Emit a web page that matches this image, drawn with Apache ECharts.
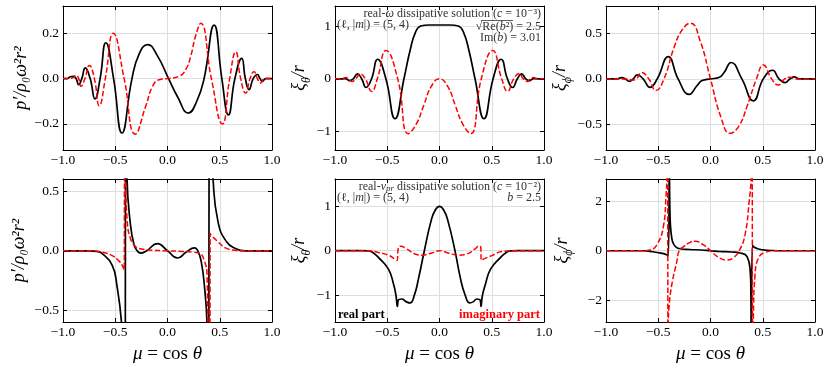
<!DOCTYPE html>
<html>
<head>
<meta charset="utf-8">
<script src="https://cdn.jsdelivr.net/npm/echarts@6/dist/echarts.min.js"></script>
<style>
  html, body { margin: 0; background: #fff; }
  #chart { width: 831px; height: 367px; }
</style>
</head>
<body>
<div id="chart"></div>
<script>
// tick values
const xTicks = [-1, -0.5, 0, 0.5, 1]
const pTopTicks = [-0.2, 0, 0.2]
const thTopTicks = [-1, 0, 1]
const phTopTicks = [-0.5, 0, 0.5]
const pBotTicks = [-0.5, 0, 0.5]
const thBotTicks = [-1, 0, 1]
const phBotTicks = [-2, 0, 2]

// top row: real-omega solution, [mu, value]
const pTopRe = [[-1,0],[-0.96,0],[-0.93,0.008],[-0.9,0.01],[-0.875,0],[-0.85,-0.027],[-0.82,0],[-0.787,0.047],[-0.74,0],[-0.694,-0.09],[-0.645,0],[-0.59,0.158],[-0.516,0],[-0.436,-0.24],[-0.34,0],[-0.27,0.11],[-0.19,0.15],[-0.096,0.1],[0.01,0],[0.096,-0.08],[0.2,-0.152],[0.28,-0.1],[0.35,0],[0.446,0.236],[0.52,0],[0.583,-0.16],[0.645,0],[0.71,0.089],[0.745,0],[0.78,-0.049],[0.82,0],[0.86,0.018],[0.885,0],[0.908,-0.012],[0.94,0],[1,0]]
const pTopIm = [[-1,0],[-0.94,0],[-0.9,0.005],[-0.876,0.015],[-0.85,0],[-0.828,-0.034],[-0.79,0],[-0.748,0.058],[-0.7,0],[-0.653,-0.12],[-0.595,0],[-0.519,0.2],[-0.415,0],[-0.309,-0.245],[-0.207,-0.12],[-0.143,-0.034],[-0.08,-0.005],[0,0],[0.11,0.01],[0.175,0.04],[0.223,0.1],[0.27,0.19],[0.318,0.244],[0.42,0],[0.525,-0.2],[0.595,0],[0.653,0.118],[0.7,0],[0.748,-0.064],[0.79,0],[0.828,0.03],[0.86,0],[0.89,-0.02],[0.93,0],[1,0]]
const thTopRe = [[-1,0],[-0.93,0],[-0.9,0.005],[-0.86,-0.035],[-0.825,0],[-0.786,0.095],[-0.745,0],[-0.703,-0.165],[-0.65,0],[-0.592,0.37],[-0.513,0],[-0.426,-0.757],[-0.34,0],[-0.28,0.55],[-0.23,0.88],[-0.18,1.0],[-0.1,1.02],[0,1.02],[0.1,1.02],[0.18,1.0],[0.23,0.88],[0.28,0.55],[0.34,0],[0.426,-0.757],[0.513,0],[0.59,0.37],[0.65,0],[0.7,-0.165],[0.745,0],[0.787,0.095],[0.825,0],[0.86,-0.035],[0.9,0.005],[0.95,0],[1,0]]
const thTopIm = [[-1,0],[-0.93,0],[-0.9,0.025],[-0.87,0],[-0.84,-0.05],[-0.8,0],[-0.761,0.095],[-0.71,0],[-0.649,-0.24],[-0.595,0],[-0.512,0.536],[-0.4,0],[-0.298,-1.04],[-0.22,-0.85],[-0.15,-0.5],[-0.08,-0.15],[0,0],[0.08,-0.15],[0.15,-0.5],[0.22,-0.85],[0.298,-1.04],[0.4,0],[0.509,0.536],[0.595,0],[0.652,-0.24],[0.71,0],[0.764,0.1],[0.8,0],[0.844,-0.05],[0.87,0],[0.9,0.025],[0.93,0],[1,0]]
const phTopRe = [[-1,0],[-0.9,0],[-0.85,0.015],[-0.815,0],[-0.777,-0.026],[-0.74,0],[-0.7,0.044],[-0.645,0],[-0.579,-0.092],[-0.51,0],[-0.404,0.245],[-0.31,0],[-0.203,-0.17],[-0.13,-0.075],[-0.08,-0.018],[0,0],[0.08,0.015],[0.13,0.07],[0.196,0.18],[0.3,0],[0.41,-0.242],[0.505,0],[0.595,0.095],[0.655,0],[0.713,-0.04],[0.76,0],[0.802,0.022],[0.85,0],[1,0]]
const phTopIm = [[-1,0],[-0.8,0],[-0.745,-0.012],[-0.71,0],[-0.659,0.07],[-0.59,0],[-0.522,-0.128],[-0.445,0],[-0.35,0.34],[-0.27,0.54],[-0.19,0.612],[-0.1,0.42],[0,0],[0.1,-0.42],[0.187,-0.597],[0.27,-0.52],[0.35,-0.3],[0.44,0],[0.506,0.154],[0.585,0],[0.649,-0.066],[0.71,0],[0.76,0.018],[0.81,0],[1,0]]

// bottom row: real-v_pr solution
const pBotRe = [[-1,0],[-0.75,0],[-0.68,-0.005],[-0.63,-0.02],[-0.53,-0.12],[-0.484,-0.29],[-0.44,-0.6],[-0.42,-1.0],[-0.405,-2],[-0.401,2],[-0.395,1.2],[-0.387,0.6],[-0.354,0.215],[-0.32,0.05],[-0.29,0],[-0.257,-0.02],[-0.2,0],[-0.097,0.06],[0,0],[0.097,-0.06],[0.18,-0.01],[0.258,0.025],[0.29,0],[0.323,-0.09],[0.355,-0.31],[0.378,-0.6],[0.39,-1.2],[0.395,-2],[0.399,2],[0.42,1.0],[0.436,0.6],[0.484,0.24],[0.565,0.075],[0.65,0.02],[0.75,0],[1,0]]
const pBotIm = [[-1,0],[-0.75,0],[-0.63,-0.01],[-0.53,-0.04],[-0.47,-0.08],[-0.435,-0.12],[-0.415,-0.16],[-0.41,2],[-0.4,0.6],[-0.387,0.27],[-0.354,0.1],[-0.3,0.03],[-0.274,0.02],[-0.15,0.005],[0,0],[0.15,-0.005],[0.25,-0.012],[0.307,-0.02],[0.355,-0.09],[0.378,-0.2],[0.39,-0.9],[0.405,-2],[0.409,0.145],[0.42,0.13],[0.465,0.09],[0.565,0.02],[0.65,0.005],[0.75,0],[1,0]]
const thBotRe = [[-1,0],[-0.75,0],[-0.68,-0.005],[-0.633,-0.05],[-0.585,-0.15],[-0.49,-0.41],[-0.44,-0.75],[-0.416,-1.02],[-0.403,-1.26],[-0.395,-1.12],[-0.362,-1.09],[-0.32,-1.15],[-0.282,-1.18],[-0.24,-1.0],[-0.2,-0.62],[-0.145,0],[-0.08,0.68],[-0.04,0.92],[0,1.0],[0.04,0.92],[0.08,0.68],[0.148,0],[0.2,-0.62],[0.245,-1.0],[0.29,-1.18],[0.325,-1.15],[0.356,-1.09],[0.39,-1.12],[0.397,-1.26],[0.41,-1.02],[0.44,-0.75],[0.49,-0.41],[0.585,-0.15],[0.633,-0.05],[0.68,-0.005],[0.75,0],[1,0]]
const thBotIm = [[-1,0],[-0.68,0],[-0.585,-0.04],[-0.49,-0.1],[-0.426,-0.19],[-0.408,-0.22],[-0.392,0.08],[-0.372,0.1],[-0.314,0.04],[-0.234,-0.075],[-0.17,-0.1],[-0.075,-0.05],[0,0],[0.085,-0.05],[0.18,-0.1],[0.26,-0.075],[0.34,0.04],[0.378,0.11],[0.395,0.08],[0.4,-0.22],[0.42,-0.19],[0.5,-0.11],[0.595,-0.02],[0.7,0],[1,0]]
const phBotRe = [[-1,0],[-0.65,0],[-0.55,-0.04],[-0.45,-0.12],[-0.42,-0.16],[-0.404,-0.2],[-0.394,3.5],[-0.39,2],[-0.383,1.0],[-0.37,0.5],[-0.356,0.3],[-0.33,0.15],[-0.29,0.08],[-0.2,0.05],[-0.09,0.03],[0,0],[0.09,-0.03],[0.2,-0.05],[0.285,-0.09],[0.35,-0.24],[0.38,-0.85],[0.386,-1.5],[0.39,-3.5],[0.402,0.23],[0.415,0.15],[0.46,0.07],[0.54,0.02],[0.65,0],[1,0]]
const phBotIm = [[-1,0],[-0.65,0],[-0.58,0.03],[-0.515,0.23],[-0.45,1.0],[-0.426,2.2],[-0.418,2.9],[-0.412,5],[-0.406,-5],[-0.403,-2.9],[-0.397,-2.3],[-0.371,-1.39],[-0.323,-0.45],[-0.3,0],[-0.26,0.16],[-0.2,0.33],[-0.148,0.39],[-0.07,0.25],[0,0],[0.07,-0.25],[0.155,-0.38],[0.22,-0.28],[0.275,0],[0.33,0.64],[0.37,2.0],[0.388,2.9],[0.397,5],[0.403,-5],[0.41,-2.75],[0.426,-0.99],[0.458,-0.31],[0.52,-0.07],[0.63,0],[1,0]]

const SERIF = "'Liberation Serif', 'DejaVu Serif', serif"
const minus = (s) => s.replace('-', '\u2212')
const fmt1 = (v) => minus((Math.abs(v) < 1e-9 ? 0 : v).toFixed(1))
const fmt0 = (v) => minus(String(Math.round(v)))

const nameRich = {
  i: { fontFamily: SERIF, fontStyle: 'italic', fontSize: 18, lineHeight: 26, color: '#000' },
  r: { fontFamily: SERIF, fontSize: 18, lineHeight: 26, color: '#000' },
  s: { fontFamily: SERIF, fontStyle: 'italic', fontSize: 12, lineHeight: 13, verticalAlign: 'bottom', color: '#000' },
}
const pName = '{i|p′/ρ₀ω²r²}'
const thName = '{i|ξ}{s|θ}{i|/r}'
const phName = '{i|ξ}{s|ϕ}{i|/r}'

const panels = [
  { left: 63, top: 6, h: 144, re: pTopRe, im: pTopIm, ticks: pTopTicks, min: -0.315, max: 0.32, fmt: fmt1, name: pName, gap: 29 },
  { left: 335, top: 6, h: 144, re: thTopRe, im: thTopIm, ticks: thTopTicks, min: -1.35, max: 1.38, fmt: fmt0, name: thName, gap: 18 },
  { left: 606, top: 6, h: 144, re: phTopRe, im: phTopIm, ticks: phTopTicks, min: -0.78, max: 0.8, fmt: fmt1, name: phName, gap: 31 },
  { left: 63, top: 179, h: 143, re: pBotRe, im: pBotIm, ticks: pBotTicks, min: -0.595, max: 0.6, fmt: fmt1, name: pName, gap: 31 },
  { left: 335, top: 179, h: 143, re: thBotRe, im: thBotIm, ticks: thBotTicks, min: -1.61, max: 1.62, fmt: fmt0, name: thName, gap: 19 },
  { left: 606, top: 179, h: 143, re: phBotRe, im: phBotIm, ticks: phBotTicks, min: -2.89, max: 2.91, fmt: fmt0, name: phName, gap: 31 },
]

const frame = { show: true, onZero: false, lineStyle: { color: '#000', width: 1 } }
const tick = { show: true, inside: true, length: 4, lineStyle: { color: '#000', width: 1 } }
const grid = [], xAxis = [], yAxis = [], series = []

panels.forEach((p, i) => {
  grid.push({ left: p.left, top: p.top, width: 209, height: p.h })
  const bottomRow = p.top > 100
  xAxis.push({
    gridIndex: i, type: 'value', min: -1, max: 1, interval: 0.5, position: 'bottom',
    axisLine: frame, axisTick: tick,
    axisLabel: { color: '#000', fontFamily: SERIF, fontSize: 13.5, margin: 3, formatter: fmt1 },
    splitLine: { show: true, lineStyle: { color: '#dedede', width: 1 } },
    name: bottomRow ? '{i|μ}{r| = cos }{i|θ}' : '',
    nameLocation: 'middle', nameGap: 19,
    nameTextStyle: { rich: { i: { ...nameRich.i, fontSize: 19 }, r: { ...nameRich.r, fontSize: 19 } } },
  })
  xAxis.push({
    gridIndex: i, type: 'value', min: -1, max: 1, interval: 0.5, position: 'top',
    axisLine: frame, axisTick: tick, axisLabel: { show: false }, splitLine: { show: false },
  })
  yAxis.push({
    gridIndex: i, type: 'value', min: p.min, max: p.max, position: 'left',
    axisLine: frame,
    axisTick: { ...tick, customValues: p.ticks },
    axisLabel: { color: '#000', fontFamily: SERIF, fontSize: 13.5, margin: 4, formatter: p.fmt, customValues: p.ticks },
    splitLine: { show: true, lineStyle: { color: '#dedede', width: 1 } },
    name: p.name, nameLocation: 'middle', nameGap: p.gap,
    nameTextStyle: { rich: nameRich },
  })
  yAxis.push({
    gridIndex: i, type: 'value', min: p.min, max: p.max, position: 'right',
    axisLine: frame,
    axisTick: { ...tick, customValues: p.ticks },
    axisLabel: { show: false, customValues: p.ticks }, splitLine: { show: false },
  })
  const idx = 2 * i
  series.push({
    type: 'line', xAxisIndex: idx, yAxisIndex: idx, data: p.re, smooth: true,
    showSymbol: false, symbol: 'none', silent: true, z: 2,
    lineStyle: { color: '#000', width: 1.7 },
  })
  series.push({
    type: 'line', xAxisIndex: idx, yAxisIndex: idx, data: p.im, smooth: true,
    showSymbol: false, symbol: 'none', silent: true, z: 3,
    lineStyle: { color: '#ff0000', width: 1.5, type: [5.5, 2.4] },
  })
})

const ann = { fontFamily: SERIF, fontSize: 12, fill: '#333' }
const annRich = {
  t: { ...ann },
  i: { ...ann, fontStyle: 'italic' },
  s: { ...ann, fontStyle: 'italic', fontSize: 9, verticalAlign: 'bottom', lineHeight: 9 },
}
const label = (text, x, y, align) => ({
  type: 'text', x, y, silent: true, z: 10,
  style: { text, align, verticalAlign: 'middle', rich: annRich, ...ann },
})
const bold = (text, x, align, fill) => ({
  type: 'text', x, y: 315, silent: true, z: 10,
  style: { text, align, verticalAlign: 'middle', fontFamily: SERIF, fontSize: 12.5, fontWeight: 'bold', fill },
})

const graphic = [
  label('{t|real-}{i|ω}{t| dissipative solution (}{i|c}{t| = 10⁻³)}', 541, 14, 'right'),
  label('{t|(ℓ, |}{i|m}{t||) = (5, 4)}', 337, 25, 'left'),
  label('{t|√Re(}{i|b}{t|²) = 2.5}', 541, 27, 'right'),
  // radical bar over Re(b²)
  { type: 'line', silent: true, z: 10, shape: { x1: 481, y1: 20.5, x2: 513, y2: 20.5 }, style: { stroke: '#333', lineWidth: 0.8 } },
  label('{t|Im(}{i|b}{t|) = 3.01}', 541, 38, 'right'),
  label('{t|real-}{i|v}{s|pr}{t| dissipative solution (}{i|c}{t| = 10⁻²)}', 541, 187, 'right'),
  label('{t|(ℓ, |}{i|m}{t||) = (5, 4)}', 337, 198, 'left'),
  label('{i|b}{t| = 2.5}', 541, 198, 'right'),
  bold('real part', 338, 'left', '#000'),
  bold('imaginary part', 540, 'right', '#ff0000'),
]

const chart = echarts.init(document.getElementById('chart'))
chart.setOption({
  animation: false,
  backgroundColor: '#fff',
  grid, xAxis, yAxis, series, graphic,
})
</script>
</body>
</html>
